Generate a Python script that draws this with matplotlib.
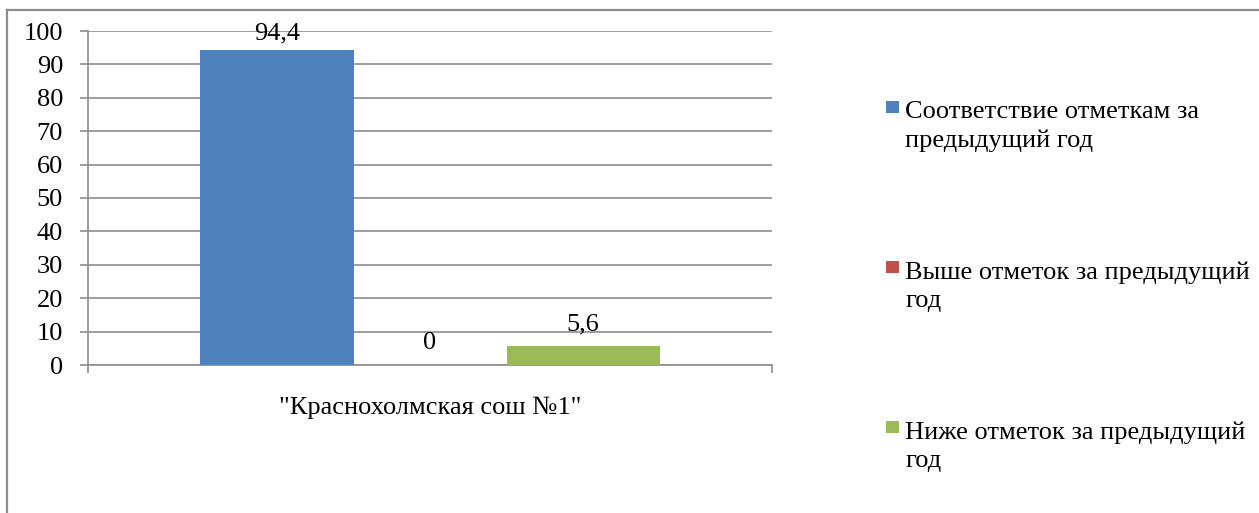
import matplotlib.pyplot as plt
from matplotlib.lines import Line2D
from matplotlib.patches import Rectangle

plt.rcParams["font.family"] = ["Liberation Serif", "DejaVu Serif"]

category = '"Краснохолмская сош №1"'
series = [
    "Соответствие отметкам за\nпредыдущий год",
    "Выше отметок за предыдущий\nгод",
    "Ниже отметок за предыдущий\nгод",
]
values = [94.4, 0, 5.6]
value_labels = ["94,4", "0", "5,6"]
colors = ["#4F81BD", "#C0504D", "#9BBB59"]
y_ticks = [0, 10, 20, 30, 40, 50, 60, 70, 80, 90, 100]

W, H = 1259, 513
FS = 19
fig = plt.figure(figsize=(W / 100, H / 100), dpi=100)

# outer chart border (only top and left edges visible)
fig.add_artist(Line2D([7 / W, 1], [1 - 9.5 / H, 1 - 9.5 / H], color="#8c8c8c", lw=1.6))
fig.add_artist(Line2D([7 / W, 7 / W], [0, 1 - 9.5 / H], color="#8c8c8c", lw=1.6))

ax = fig.add_axes([88 / W, (H - 365) / H, 684 / W, 334 / H])
grid_col = "#8c8c8c"

bar_w = 153 / 684
centers = [0.5 - bar_w, 0.5, 0.5 + bar_w]
ax.bar(centers, values, width=bar_w, color=colors, zorder=3)
for x, v, lab in zip(centers, values, value_labels):
    # labels near the top get squeezed against the plot edge, like in Excel
    off = 4 if v > 90 else 8
    ax.annotate(lab, (x, v), xytext=(0, off), textcoords="offset points",
                ha="center", va="bottom", fontsize=FS, zorder=4)

ax.set_xlim(0, 1)
ax.set_ylim(0, 100)
ax.set_yticks(y_ticks)
ax.set_yticklabels([str(t) for t in y_ticks], fontsize=FS)
ax.set_xticks([0, 1])
ax.set_xticklabels(["", ""])
ax.tick_params(axis="y", direction="out", length=6, width=1.2, color=grid_col, pad=12)
ax.tick_params(axis="x", direction="out", length=6, width=1.2, color=grid_col)
ax.yaxis.grid(True, color=grid_col, lw=1.2, zorder=0)
ax.set_axisbelow(True)
for s in ["top", "right"]:
    ax.spines[s].set_visible(False)
for s in ["left", "bottom"]:
    ax.spines[s].set_color(grid_col)
    ax.spines[s].set_linewidth(1.2)

ax.text(0.5, -43 / 334, category, transform=ax.transAxes, ha="center",
        va="center", fontsize=FS)

# legend
for i, (name, c) in enumerate(zip(series, colors)):
    base = 117 + i * 160
    fig.add_artist(Rectangle((886 / W, 1 - (base - 4) / H), 13 / W, 12 / H,
                             facecolor=c, edgecolor="none",
                             transform=fig.transFigure))
    # va="baseline" anchors the last line, so shift by one line height
    fig.text(905 / W, 1 - (base + 30) / H, name, ha="left", va="baseline",
             fontsize=FS, linespacing=1.38)

fig.savefig("out.png", dpi=100)
